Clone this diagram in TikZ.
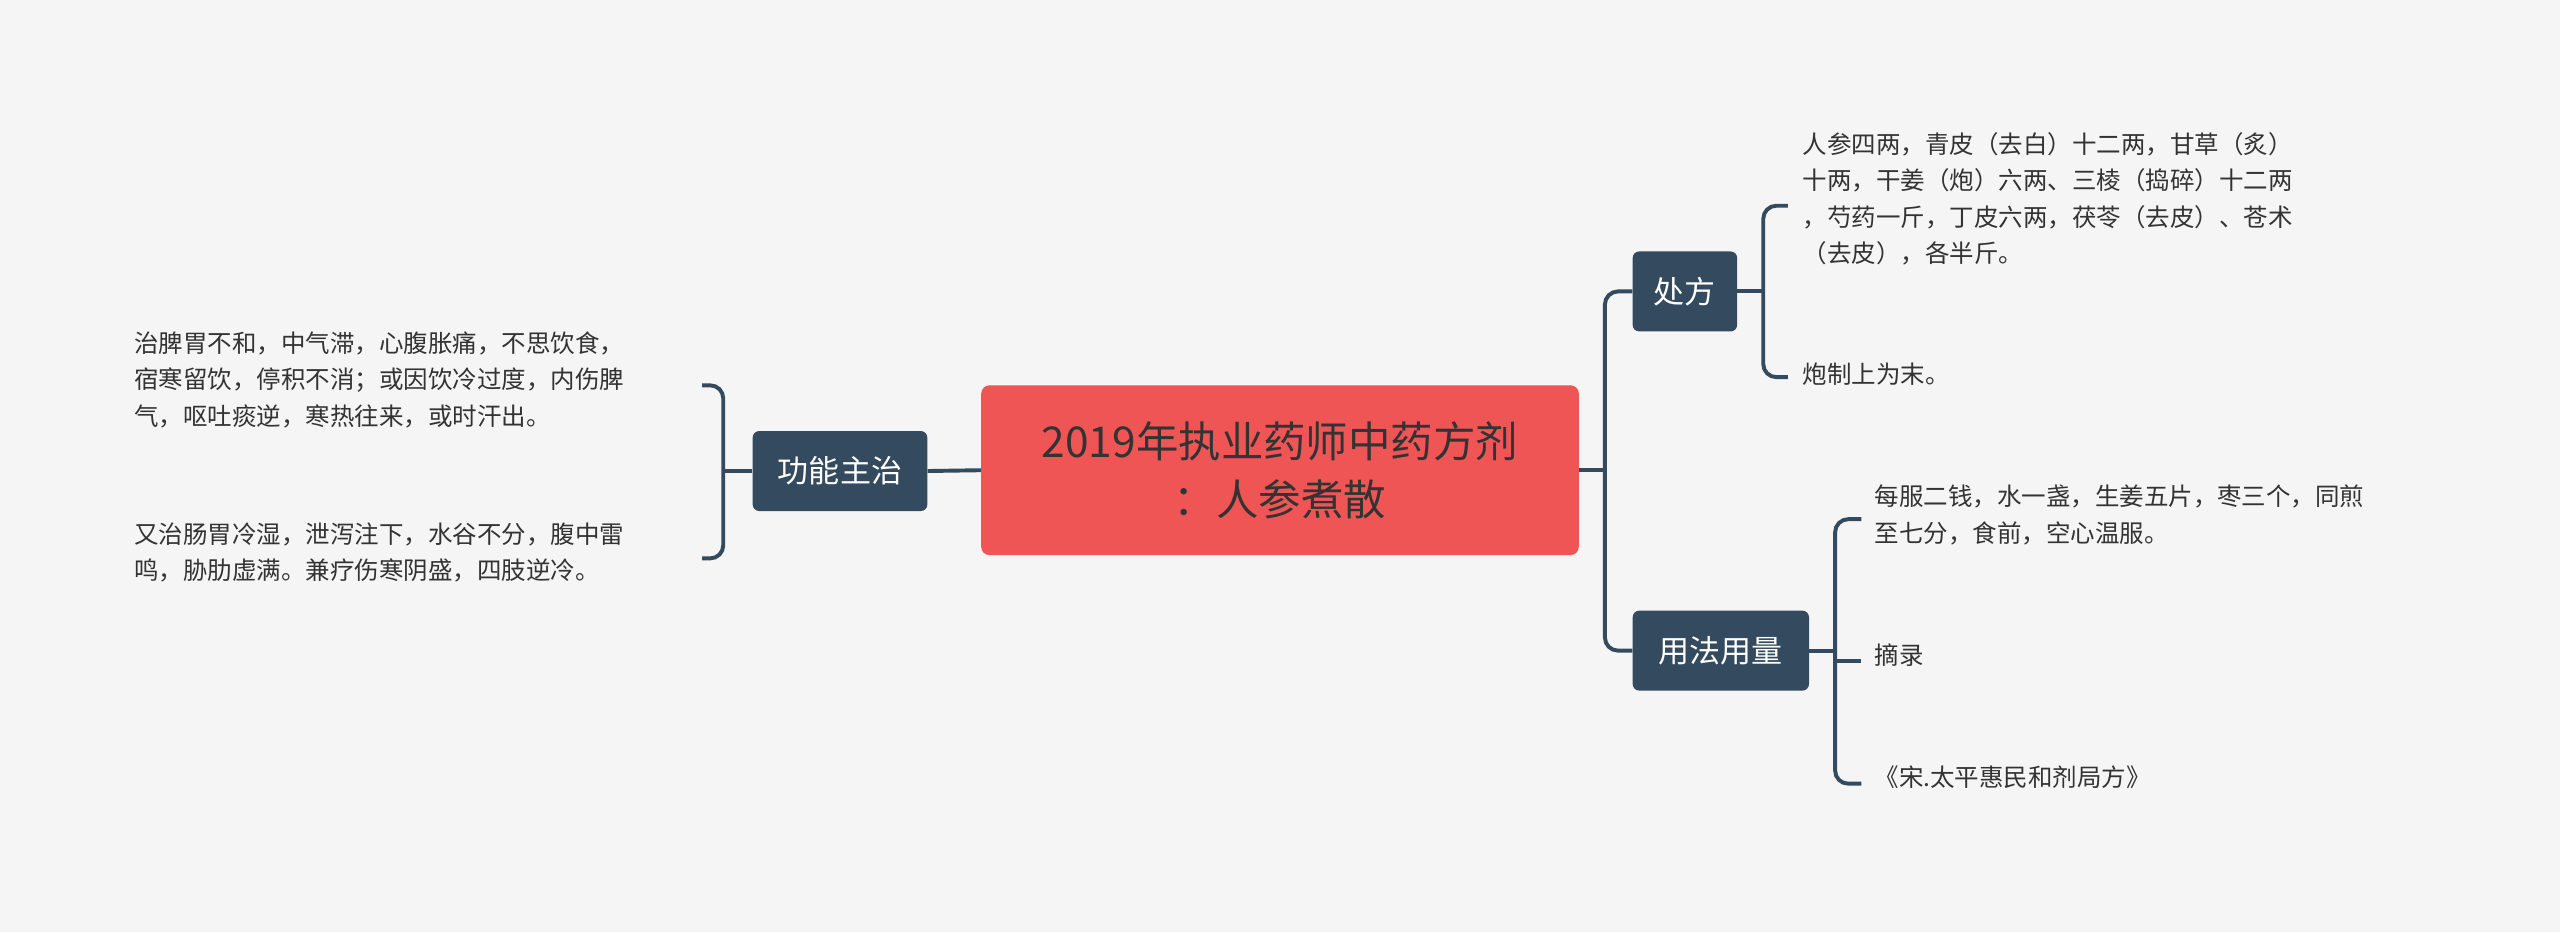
\documentclass[tikz,border=0pt]{standalone}
\usepackage{fontspec}
\setmainfont{Noto Sans CJK SC}
\begin{document}
\begin{tikzpicture}[x=1pt,y=-1pt,
  topic/.style={draw=none,fill=black!0,rounded corners=4pt,fill=boxc,text=white,font=\fontsize{19}{22}\selectfont,inner sep=0pt},
  leaf/.style={anchor=north west,align=left,inner sep=0pt,text=txt,font=\fontsize{15}{22.3}\selectfont},
  conn/.style={draw=boxc,line width=2.4pt,rounded corners=8pt}]
\definecolor{boxc}{HTML}{344A5F}
\definecolor{txt}{HTML}{333333}
\definecolor{bg}{HTML}{F5F5F5}
\definecolor{cen}{HTML}{F05555}
\fill[bg] (0,0) rectangle (1568,571);
\useasboundingbox (0,0) rectangle (1568,571);
\node[fill=cen,rounded corners=5pt,minimum width=366pt,minimum height=104pt,inner sep=0pt,align=center,text=txt,font=\fontsize{26}{36}\selectfont] (c) at (784,288) {2019年执业药师中药方剂\\：人参煮散};
\node[topic,minimum width=107pt,minimum height=49pt] (g) at (514.5,288.5) {功能主治};
\node[topic,minimum width=64pt,minimum height=49pt] (f) at (1032,178.5) {处方};
\node[topic,minimum width=108pt,minimum height=49pt] (y) at (1054,398.5) {用法用量};
\node[leaf] (l1) at (82,203) {治脾胃不和，中气滞，心腹胀痛，不思饮食，\\宿寒留饮，停积不消；或因饮冷过度，内伤脾\\气，呕吐痰逆，寒热往来，或时汗出。};
\node[leaf] (l2) at (82,320) {又治肠胃冷湿，泄泻注下，水谷不分，腹中雷\\鸣，胁肋虚满。兼疗伤寒阴盛，四肢逆冷。};
\node[leaf] (r1) at (1104,81) {人参四两，青皮（去白）十二两，甘草（炙）\\十两，干姜（炮）六两、三棱（捣碎）十二两\\，芍药一斤，丁皮六两，茯苓（去皮）、苍术\\（去皮），各半斤。};
\node[leaf] (r2) at (1104,222) {炮制上为末。};
\node[leaf] (u1) at (1148,297) {每服二钱，水一盏，生姜五片，枣三个，同煎\\至七分，食前，空心温服。};
\node[leaf] (u2) at (1148,394) {摘录};
\node[leaf] (u3) at (1148,469) {《宋.太平惠民和剂局方》};
\draw[conn,rounded corners=0] (c.west) -- (g.east);
\draw[conn] (g.west) -- (443,288.5);
\draw[conn] (430,236) -- (443,236) -- (443,342) -- (430,342);
\draw[conn,rounded corners=0] (c.east) -- (983,288);
\draw[conn] (f.west) -- (983,178.5) -- (983,398.5) -- (y.west);
\draw[conn] (f.east) -- (1080,178.5);
\draw[conn] (1095,126) -- (1080,126) -- (1080,231) -- (1095,231);
\draw[conn] (y.east) -- (1124,398.5);
\draw[conn] (1140,318) -- (1124,318) -- (1124,480) -- (1140,480);
\draw[conn,rounded corners=0] (1124,405) -- (1140,405);
\end{tikzpicture}
\end{document}
